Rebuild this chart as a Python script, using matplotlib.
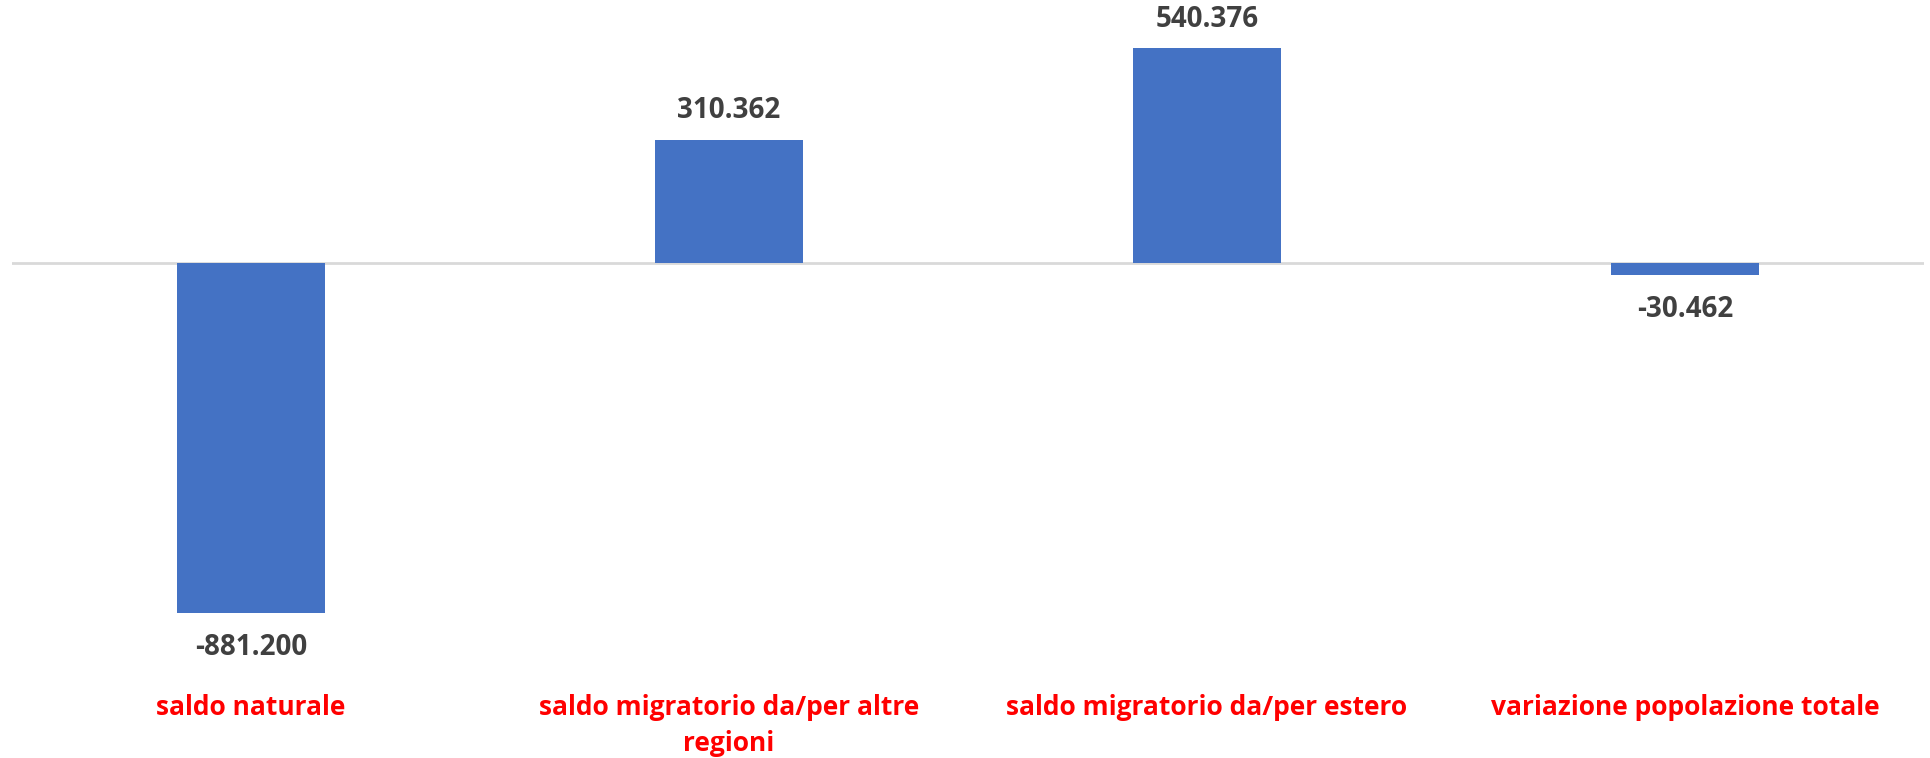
import matplotlib
matplotlib.use("Agg")
import matplotlib.pyplot as plt
import numpy as np

# data
categories = ["saldo naturale",
              "saldo migratorio da/per altre\nregioni",
              "saldo migratorio da/per estero",
              "variazione popolazione totale"]
values = [-881.200, 310.362, 540.376, -30.462]
value_labels = ["-881.200", "310.362", "540.376", "-30.462"]

plt.rcParams['font.family'] = ['Open Sans', 'DejaVu Sans']

W, H, dpi = 1931, 758, 100
fig = plt.figure(figsize=(W / dpi, H / dpi), dpi=dpi)
# axes spans pixel rows 31..641 and columns 12..1924
ax = fig.add_axes([12 / W, (H - 641) / H, 1912 / W, 610 / H])

x = np.arange(len(categories))
bars = ax.bar(x, values, width=0.31, color='#4472C4', zorder=2)

ax.set_xlim(-0.5, len(categories) - 0.5)
ax.set_ylim(-951.6, 584.0)
ax.axhline(0, color='#D9D9D9', lw=2, zorder=1)

for s in ax.spines.values():
    s.set_visible(False)
ax.set_yticks([])
ax.set_xticks(x, categories)
ax.tick_params(axis='x', length=0, pad=38, labelsize=19, labelcolor='#FF0000')
for t in ax.get_xticklabels():
    t.set_fontweight('bold')
    t.set_linespacing(1.45)

for b, v, lab in zip(bars, values, value_labels):
    off = 21 if v >= 0 else -25
    ax.annotate(lab, (b.get_x() + b.get_width() / 2, v), xytext=(0, off),
                textcoords='offset points', ha='center', va='center',
                fontsize=20, fontweight='bold', color='#404040')

fig.savefig("out.png", dpi=dpi)
